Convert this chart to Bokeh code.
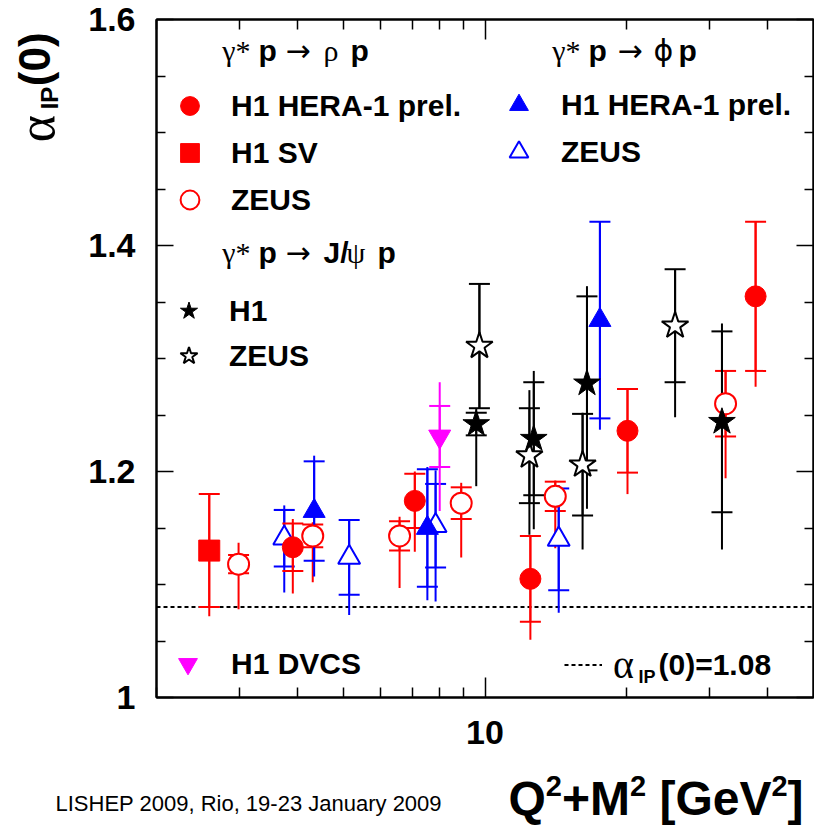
import math
from bokeh.plotting import figure
from bokeh.layouts import column, row
from bokeh.models import (Range1d, FixedTicker, LinearAxis, LogAxis, PrintfTickFormatter,
                          ColumnDataSource, Whisker, TeeHead, Span, Label, Legend, LegendItem)
from bokeh.core.properties import value
from bokeh.embed import file_html
from bokeh.resources import INLINE

# ---------------- data (Q^2+M^2 [GeV^2], alpha_IP(0), stat, total-low, total-high) -------------
RHO_H1_X = [3.90, 7.09, 12.49, 20.1, 37.65]
RHO_H1_Y = [1.133, 1.174, 1.105, 1.236, 1.355]
RHO_H1_STAT = [0.021, 0.024, 0.038, 0.037, 0.066]
RHO_H1_LO = [0.041, 0.045, 0.054, 0.056, 0.080]
RHO_H1_HI = [0.025, 0.026, 0.038, 0.037, 0.066]

RHO_SV_X = [2.59]
RHO_SV_Y = [1.130]
RHO_SV_STAT = [0.050]
RHO_SV_LO = [0.058]
RHO_SV_HI = [0.050]

RHO_ZEUS_X = [2.99, 4.30, 6.58, 8.90, 14.11, 32.5]
RHO_ZEUS_Y = [1.118, 1.143, 1.143, 1.172, 1.178, 1.260]
RHO_ZEUS_STAT = [0.008, 0.010, 0.013, 0.014, 0.013, 0.029]
RHO_ZEUS_LO = [0.040, 0.041, 0.046, 0.048, 0.046, 0.066]
RHO_ZEUS_HI = [0.019, 0.012, 0.017, 0.018, 0.014, 0.029]

PHI_H1_X = [4.33, 7.54, 17.56]
PHI_H1_Y = [1.165, 1.150, 1.334]
PHI_H1_STAT = [0.044, 0.052, 0.087]
PHI_H1_LO = [0.058, 0.064, 0.097]
PHI_H1_HI = [0.049, 0.054, 0.087]

PHI_ZEUS_X = [3.74, 5.14, 7.85, 14.35]
PHI_ZEUS_Y = [1.141, 1.124, 1.152, 1.140]
PHI_ZEUS_STAT = [0.025, 0.033, 0.037, 0.045]
PHI_ZEUS_LO = [0.048, 0.051, 0.067, 0.065]
PHI_ZEUS_HI = [0.029, 0.034, 0.049, 0.048]

JPSI_H1_X = [9.58, 12.70, 16.48, 31.93]
JPSI_H1_Y = [1.242, 1.229, 1.278, 1.244]
JPSI_H1_STAT = [0.010, 0.050, 0.077, 0.080]
JPSI_H1_LO = [0.055, 0.080, 0.111, 0.113]
JPSI_H1_HI = [0.014, 0.060, 0.086, 0.087]

JPSI_ZEUS_X = [9.73, 12.43, 16.13, 25.38]
JPSI_ZEUS_Y = [1.311, 1.214, 1.206, 1.329]
JPSI_ZEUS_STAT = [0.055, 0.042, 0.045, 0.050]
JPSI_ZEUS_LO = [0.055, 0.070, 0.075, 0.081]
JPSI_ZEUS_HI = [0.055, 0.058, 0.046, 0.050]

DVCS_X = [8.01]
DVCS_Y = [1.231]
DVCS_STAT = [0.027]
DVCS_LO = [0.066]
DVCS_HI = [0.048]

ALPHA0 = 1.08

X_RANGE = (2, 50)
Y_RANGE = (1.0, 1.6)
X_MAJOR = [10]
X_MINOR = [2, 3, 4, 5, 6, 7, 8, 9, 20, 30, 40]
Y_MAJOR = [1.0, 1.2, 1.4, 1.6]
Y_MINOR = [1.05, 1.1, 1.15, 1.25, 1.3, 1.35, 1.45, 1.5, 1.55]

RED, BLUE, MAGENTA, BLACK = "#ff0000", "#0000ff", "#ff00ff", "#000000"
FONT = "Liberation Sans"
GREEK = "Liberation Serif"

# ---------------- page geometry ----------------
PAGE_W, PAGE_H = 814, 827
LEFT_W = 70                  # strip for the y title
MAIN_H = 762                 # main figure height
FL, FT, FB = 156, 19, 697    # frame left / top / bottom in page pixels

# ---------------- main figure ----------------
p = figure(width=PAGE_W - LEFT_W, height=MAIN_H, x_axis_type="log",
           x_range=Range1d(*X_RANGE), y_range=Range1d(*Y_RANGE),
           output_backend="svg", toolbar_location=None,
           min_border_left=FL - LEFT_W, min_border_right=1, min_border_top=FT,
           min_border_bottom=MAIN_H - FB)
p.xgrid.visible = False
p.ygrid.visible = False
p.background_fill_color = "white"
p.border_fill_color = "white"
p.outline_line_color = "black"
p.outline_line_width = 2


def style_axis(ax, major_in, minor_in, labels=True):
    ax.major_tick_in = major_in
    ax.major_tick_out = 0
    ax.minor_tick_in = minor_in
    ax.minor_tick_out = 0
    ax.major_tick_line_color = "black"
    ax.minor_tick_line_color = "black"
    ax.major_tick_line_width = 1.5
    ax.minor_tick_line_width = 1.5
    ax.axis_line_color = "black"
    ax.axis_line_width = 2
    if labels:
        ax.major_label_text_font = FONT
        ax.major_label_text_font_style = "bold"
        ax.major_label_text_font_size = "34px"
        ax.major_label_text_color = "black"
    else:
        ax.major_label_text_font_size = "1px"
        ax.major_label_text_alpha = 0
        ax.major_label_standoff = 0


xt = FixedTicker(ticks=X_MAJOR, minor_ticks=X_MINOR)
yt = FixedTicker(ticks=Y_MAJOR, minor_ticks=Y_MINOR)

xax = p.xaxis[0]
xax.ticker = xt
xax.formatter = PrintfTickFormatter(format="%g")
style_axis(xax, 20, 10)
xax.major_label_standoff = 23

yax = p.yaxis[0]
yax.ticker = yt
yax.formatter = PrintfTickFormatter(format="%g")
style_axis(yax, 17, 9)
yax.major_label_standoff = 21

top = LogAxis(ticker=xt, formatter=PrintfTickFormatter(format="%g"))
style_axis(top, 20, 10, labels=False)
p.add_layout(top, "above")
right = LinearAxis(ticker=yt, formatter=PrintfTickFormatter(format="%g"))
style_axis(right, 17, 9, labels=False)
p.add_layout(right, "right")

# reference line
p.add_layout(Span(location=ALPHA0, dimension="width", line_color="black",
                  line_dash="4 3", line_width=2, level="underlay"))


def add_series(xs, ys, st, lo, hi, color, marker, filled, size):
    src = ColumnDataSource(dict(
        x=xs, y=ys,
        tlo=[y - l for y, l in zip(ys, lo)], thi=[y + h for y, h in zip(ys, hi)],
        slo=[y - s for y, s in zip(ys, st)], shi=[y + s for y, s in zip(ys, st)]))
    p.add_layout(Whisker(source=src, base="x", lower="tlo", upper="thi", dimension="height",
                         line_color=color, line_width=2, lower_head=None, upper_head=None))
    p.add_layout(Whisker(source=src, base="x", lower="slo", upper="shi", dimension="height",
                         line_color=color, line_width=2,
                         lower_head=TeeHead(size=21, line_color=color, line_width=2),
                         upper_head=TeeHead(size=21, line_color=color, line_width=2)))
    return p.scatter("x", "y", source=src, marker=marker, size=size,
                     fill_color=color if filled else "white", line_color=color,
                     line_width=1 if filled else 2)


r_rho_sv = add_series(RHO_SV_X, RHO_SV_Y, RHO_SV_STAT, RHO_SV_LO, RHO_SV_HI, RED, "square", True, 21)
r_rho_zeus = add_series(RHO_ZEUS_X, RHO_ZEUS_Y, RHO_ZEUS_STAT, RHO_ZEUS_LO, RHO_ZEUS_HI, RED, "circle", False, 21)
r_phi_zeus = add_series(PHI_ZEUS_X, PHI_ZEUS_Y, PHI_ZEUS_STAT, PHI_ZEUS_LO, PHI_ZEUS_HI, BLUE, "triangle", False, 22)
r_phi_h1 = add_series(PHI_H1_X, PHI_H1_Y, PHI_H1_STAT, PHI_H1_LO, PHI_H1_HI, BLUE, "triangle", True, 22)
r_rho_h1 = add_series(RHO_H1_X, RHO_H1_Y, RHO_H1_STAT, RHO_H1_LO, RHO_H1_HI, RED, "circle", True, 21)
r_dvcs = add_series(DVCS_X, DVCS_Y, DVCS_STAT, DVCS_LO, DVCS_HI, MAGENTA, "inverted_triangle", True, 22)
r_jpsi_zeus = add_series(JPSI_ZEUS_X, JPSI_ZEUS_Y, JPSI_ZEUS_STAT, JPSI_ZEUS_LO, JPSI_ZEUS_HI, BLACK, "star", False, 28)
r_jpsi_h1 = add_series(JPSI_H1_X, JPSI_H1_Y, JPSI_H1_STAT, JPSI_H1_LO, JPSI_H1_HI, BLACK, "star", True, 28)
# style carrier for the dashed-line legend key (point lies outside the visible range)
r_dash = p.line(x=[1.0], y=[0.5], line_color="black", line_dash="4 3", line_width=2)


# ---------------- legends ----------------
def make_legend(items, left_c, bottom_c, glyph=47, spacing=0, standoff=18,
                size="30px", style="bold", gw=None, font=FONT):
    leg = Legend(items=[LegendItem(label=value(t), renderers=[r]) for t, r in items],
                 location=(left_c - FL, FB - bottom_c), orientation="vertical",
                 glyph_width=gw if gw else glyph, glyph_height=glyph, spacing=spacing,
                 padding=0, margin=0, label_standoff=standoff,
                 label_text_font=font, label_text_font_style=style,
                 label_text_font_size=size, label_text_color="black",
                 border_line_alpha=0, background_fill_alpha=0)
    p.add_layout(leg)


make_legend([("H1 HERA-1 prel.", r_rho_h1), ("H1 SV", r_rho_sv), ("ZEUS", r_rho_zeus)],
            166, 223)
make_legend([("H1 HERA-1 prel.", r_phi_h1), ("ZEUS", r_phi_zeus)], 495, 175, standoff=19)
make_legend([("H1", r_jpsi_h1), ("ZEUS", r_jpsi_zeus)], 166, 378, glyph=45)
make_legend([("H1 DVCS", r_dvcs)], 164, 687, standoff=20)
make_legend([("α", r_dash)], 564, 688, gw=38, standoff=11, size="40px", style="normal",
            font=GREEK)


# ---------------- texts (positions given as page pixels, centre-line of text) ----------------
def lab_main(cx, cy, text, size, bold=True, font=FONT):
    p.add_layout(Label(x=cx - FL, y=FB - cy, x_units="screen", y_units="screen",
                       text=text, text_font=font, text_font_size=f"{size}px",
                       text_font_style="bold" if bold else "normal", text_color="black",
                       text_align="left", text_baseline="middle"))


HDR = 30
for (t, x, b, f) in [("γ*", 221.7, False, GREEK), ("p", 258, True, FONT),
                     ("→", 285, False, "DejaVu Sans"), ("ρ", 323, False, GREEK),
                     ("p", 350, True, FONT)]:
    lab_main(x, 50, t, HDR, b, f)
for (t, x, b, f) in [("γ*", 551.7, False, GREEK), ("p", 588, True, FONT),
                     ("→", 617, False, "DejaVu Sans"), ("ϕ", 653, False, "DejaVu Sans"),
                     ("p", 678, True, FONT)]:
    lab_main(x, 50, t, HDR, b, f)
for (t, x, b, f) in [("γ*", 221.7, False, GREEK), ("p", 258, True, FONT),
                     ("→", 285, False, "DejaVu Sans"), ("J/", 323, True, FONT),
                     ("ψ", 346, False, GREEK), ("p", 377, True, FONT)]:
    lab_main(x, 252, t, HDR, b, f)

lab_main(638, 676, "IP", 18, True)
lab_main(658, 664, "(0)=1.08", 30, True)


# ---------------- side strips for the axis titles ----------------
def strip(w, h):
    f = figure(width=w, height=h, x_range=Range1d(0, w), y_range=Range1d(0, h),
               output_backend="svg", toolbar_location=None, min_border=0,
               x_axis_location=None, y_axis_location=None)
    f.grid.visible = False
    f.outline_line_color = None
    f.background_fill_color = "white"
    f.border_fill_color = "white"
    return f


left = strip(LEFT_W, MAIN_H)
bottom = strip(PAGE_W, PAGE_H - MAIN_H)


def lab_in(fig, page_y0, fig_h, cx, cy, text, size, bold=True, angle=0.0, font=FONT):
    fig.add_layout(Label(x=cx, y=fig_h - (cy - page_y0), x_units="data", y_units="data",
                         text=text, text_font=font, text_font_size=f"{size}px",
                         text_font_style="bold" if bold else "normal", text_color="black",
                         angle=angle, text_align="left", text_baseline="middle"))


# y-axis title alpha_IP(0), rotated
lab_in(left, 0, MAIN_H, 36, 138, "α", 52, False, math.pi / 2, GREEK)
lab_in(left, 0, MAIN_H, 49, 101, "IP", 24, True, math.pi / 2)
lab_in(left, 0, MAIN_H, 34, 75, "(0)", 44, True, math.pi / 2)

# x-axis title with superscripts
ADV = {"Q": 0.778, "2": 0.556, "+": 0.584, "M": 0.833, " ": 0.278, "[": 0.333,
       "G": 0.778, "e": 0.556, "V": 0.667, "]": 0.333}
cx = 508
for t, sup, gap in [("Q", False, 0), ("2", True, 0), ("+M", False, 0), ("2", True, 0),
                    ("[GeV", False, 1), ("2", True, 0), ("]", False, 0)]:
    fs = 29 if sup else 48
    cx += gap * ADV[" "] * 48
    lab_in(bottom, MAIN_H, PAGE_H - MAIN_H, cx, 785 if sup else 798, t, fs, True)
    cx += sum(ADV[c] for c in t) * fs

lab_in(bottom, MAIN_H, PAGE_H - MAIN_H, 55, 803,
       "LISHEP 2009, Rio, 19-23 January 2009", 22, False)

layout = column(row(left, p, spacing=0), bottom, spacing=0)
open("out.html", "w").write(file_html(layout, INLINE))
